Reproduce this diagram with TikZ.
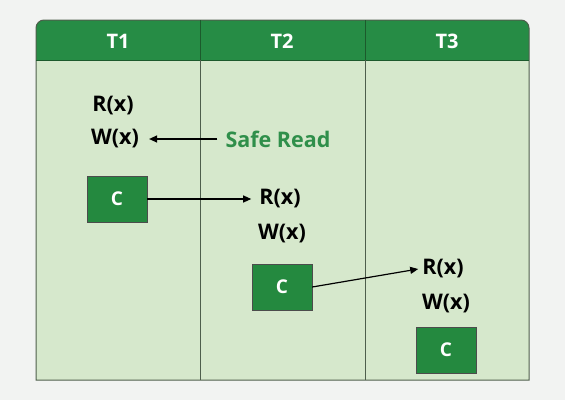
\documentclass[tikz,border=0pt]{standalone}
\usepackage{fontspec}
\setmainfont{Open Sans}
\usetikzlibrary{arrows.meta}
\definecolor{bgc}{HTML}{F2F3F2}
\definecolor{hdr}{HTML}{268C45}
\definecolor{body}{HTML}{D6E8CC}
\definecolor{boxg}{HTML}{24893F}
\definecolor{edge}{HTML}{4E5E4C}
\definecolor{hline}{HTML}{1C5A2C}
\definecolor{safe}{HTML}{2F8F4A}
\tikzset{
  op/.style={font=\fontsize{21.5}{24}\selectfont\bfseries, text=black, inner sep=0pt},
  cbox/.style={draw=black!70, fill=boxg, minimum width=60pt, minimum height=46pt, inner sep=0pt, font=\fontsize{19}{22}\selectfont\bfseries, text=white},
  hdrtxt/.style={font=\fontsize{20}{22}\selectfont\bfseries, text=white},
  conn/.style={-{Triangle[length=8pt,width=7pt]}, line width=1.2pt, black},
}
\begin{document}
\begin{tikzpicture}[x=1pt,y=-1pt]
\fill[bgc] (0,0) rectangle (565,400);
\useasboundingbox (0,0) rectangle (565,400);
% body
\fill[body] (36,60) rectangle (529,380);
% header
\fill[hdr] (36,60) -- (36,28) arc(180:270:8) -- (521,20) arc(270:360:8) -- (529,60) -- cycle;
\draw[edge, line width=1pt] (36,380) -- (36,28) arc(180:270:8) -- (521,20) arc(270:360:8) -- (529,380) -- cycle;
\draw[hline, line width=1pt] (36,60) -- (529,60);
\draw[hline, line width=1pt] (200,20) -- (200,60);
\draw[hline, line width=1pt] (365,20) -- (365,60);
\draw[edge, line width=1pt] (200,60) -- (200,380);
\draw[edge, line width=1pt] (365,60) -- (365,380);
\node[hdrtxt] (h1) at (118,41) {T1};
\node[hdrtxt] (h2) at (282,41) {T2};
\node[hdrtxt] (h3) at (447,41) {T3};
% T1
\node[op] (r1) at (113,106) {R(x)};
\node[op] (w1) at (115,139) {W(x)};
\node[op, text=safe] (sr) at (278,139) {Safe Read};
\node[cbox] (c1) at (117,199) {C};
% T2
\node[op] (r2) at (280,199) {R(x)};
\node[op] (w2) at (282,234) {W(x)};
\node[cbox] (c2) at (282,287) {C};
% T3
\node[op] (r3) at (443,269) {R(x)};
\node[op] (w3) at (446,304) {W(x)};
\node[cbox] (c3) at (446,350) {C};
% arrows
\draw[conn] (sr.west) ++(-8,0) coordinate (sa) -- ([xshift=10pt]w1.east |- sa);
\draw[conn] (c1.east) -- ([xshift=-8pt]r2.west |- c1.east);
\draw[conn] (c2.east) -- ([xshift=-4pt]r3.west);
\end{tikzpicture}
\end{document}
